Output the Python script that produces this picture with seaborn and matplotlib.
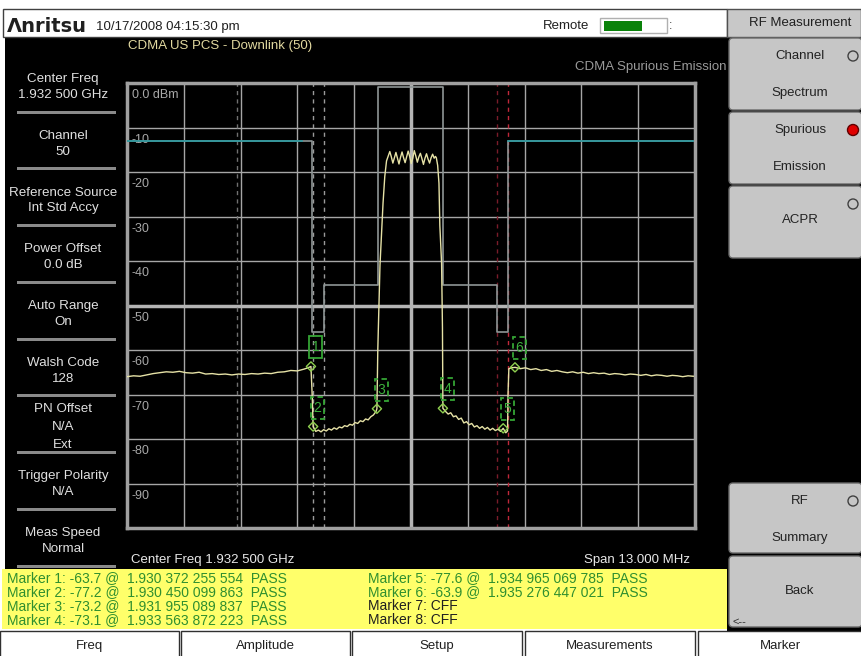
import matplotlib
matplotlib.use('Agg')
import numpy as np
import pandas as pd
import matplotlib.pyplot as plt
import seaborn as sns
from matplotlib.patches import Rectangle, FancyBboxPatch, Circle
from matplotlib.path import Path

plt.rcParams['font.family'] = ['Liberation Sans', 'DejaVu Sans']

# ---- values ----
center_ghz = 1.9325
span_mhz = 13.0

# trace, as offset from centre (MHz) and level (dBm)
trace_offset_mhz = [
    -6.50, -6.35, -6.20, -6.05, -5.90, -5.75, -5.60, -5.45, -5.30, -5.15,
    -5.00, -4.85, -4.70, -4.55, -4.40, -4.25, -4.10, -3.95, -3.80, -3.65,
    -3.50, -3.35, -3.20, -3.05, -2.90, -2.75, -2.60, -2.45, -2.36, -2.29,
    -2.26, -2.24, -2.18, -2.12, -2.06, -2.00, -1.94, -1.88, -1.82, -1.76,
    -1.70, -1.64, -1.58, -1.52, -1.46, -1.40, -1.34, -1.28, -1.22, -1.16,
    -1.10, -1.04, -0.98, -0.92, -0.86, -0.80, -0.78, -0.76, -0.73, -0.71,
    -0.67, -0.64, -0.60, -0.56,
    -0.520, -0.485, -0.450, -0.415, -0.380, -0.345, -0.310, -0.275,
    -0.240, -0.205, -0.170, -0.135, -0.100, -0.065, -0.030, 0.005,
    0.040, 0.075, 0.110, 0.145, 0.180, 0.215, 0.250, 0.285,
    0.320, 0.355, 0.390, 0.425, 0.460, 0.495, 0.530, 0.560,
    0.58, 0.61, 0.64, 0.66, 0.70, 0.72, 0.73, 0.79,
    0.85, 0.91, 0.97, 1.03, 1.09, 1.15, 1.21, 1.27, 1.33, 1.39,
    1.45, 1.51, 1.57, 1.63, 1.69, 1.75, 1.81, 1.87, 1.93, 1.99,
    2.05, 2.11, 2.17, 2.21, 2.22, 2.24, 2.30, 2.38, 2.50, 2.62,
    2.74, 2.86, 2.98, 3.10, 3.22, 3.34, 3.46, 3.58, 3.70, 3.82,
    3.94, 4.06, 4.18, 4.30, 4.42, 4.54, 4.66, 4.78, 4.90, 5.02,
    5.14, 5.26, 5.38, 5.50, 5.62, 5.74, 5.86, 5.98, 6.10, 6.22,
    6.34, 6.46]
trace_dbm = [
    -66.0, -65.8, -65.9, -65.6, -65.3, -65.1, -64.9, -65.0, -64.8, -65.1,
    -65.2, -65.0, -65.4, -65.3, -65.5, -65.4, -65.6, -65.4, -65.5, -65.3,
    -65.4, -65.2, -65.3, -65.0, -64.9, -64.6, -64.7, -64.3, -64.0, -63.7,
    -70.5, -77.2, -78.3, -78.0, -78.4, -77.9, -78.2, -77.7, -78.0, -77.5,
    -77.8, -77.3, -77.5, -77.0, -77.2, -76.7, -76.9, -76.3, -76.5, -75.9,
    -76.1, -75.5, -75.7, -75.0, -74.6, -73.8, -73.2, -60.0, -48.0, -41.0,
    -33.0, -27.0, -21.0, -17.5,
    -16.4, -15.4, -16.6, -18.0, -16.8, -15.6, -16.9, -18.2,
    -16.7, -15.5, -16.8, -17.9, -16.6, -15.3, -16.5, -18.1,
    -16.9, -15.2, -16.4, -17.8, -16.6, -15.8, -17.0, -18.3,
    -16.9, -15.9, -17.1, -18.0, -16.8, -16.0, -16.9, -16.5,
    -16.8, -18.5, -22.5, -32.0, -40.5, -55.0, -73.1, -73.8,
    -74.4, -74.1, -75.0, -74.8, -75.6, -75.3, -76.4, -76.1, -76.8, -76.5,
    -77.3, -77.0, -77.6, -77.2, -77.8, -77.4, -78.0, -77.6, -78.1, -77.8,
    -78.3, -77.6, -78.6, -78.2, -70.0, -64.2, -64.0, -63.9, -64.2, -64.0,
    -64.4, -64.2, -64.6, -64.4, -64.8, -64.6, -64.9, -65.1, -64.9, -65.2,
    -65.0, -65.3, -65.1, -65.3, -65.2, -65.5, -65.3, -65.4, -65.6, -65.4,
    -65.5, -65.7, -65.5, -65.8, -65.6, -65.7, -65.9, -65.7, -65.8, -66.0,
    -65.8, -65.9]

# spurious emission mask (step line)
mask_offset_mhz = [-6.50, -2.27, -2.27, -1.99, -1.99, -0.755, -0.755,
                   0.73, 0.73, 1.97, 1.97, 2.22, 2.22, 6.45]
mask_dbm = [-13, -13, -56, -56, -45.4, -45.4, -1.0,
            -1.0, -45.4, -45.4, -56, -56, -13, -13]
limit_left_mhz = [-6.50, -2.49]
limit_right_mhz = [2.22, 6.45]
limit_dbm = -13

# vertical dashed band edges
band_offset_mhz = [-3.98, -2.24, -1.99, 1.97, 2.22]
band_colors = ['#707070', '#9a9a9a', '#9a9a9a', '#7a1c2a', '#c0283a']

# markers
marker_ids = [1, 2, 3, 4, 5, 6]
marker_offset_mhz = [-2.29, -2.24, -0.78, 0.73, 2.11, 2.38]
marker_dbm = [-63.7, -77.2, -73.2, -73.1, -77.6, -63.9]
marker_freq_text = ['1.930 372 255 554', '1.930 450 099 863',
                    '1.931 955 089 837', '1.933 563 872 223',
                    '1.934 965 069 785', '1.935 276 447 021']

y_levels = [0, -10, -20, -30, -40, -50, -60, -70, -80, -90]

left_titles = ['Center Freq', 'Channel', 'Reference Source', 'Power Offset',
               'Auto Range', 'Walsh Code', 'PN Offset', 'Trigger Polarity',
               'Meas Speed']
left_values = ['1.932 500 GHz', '50', 'Int Std Accy', '0.0 dB', 'On', '128',
               'N/A\nExt', 'N/A', 'Normal']

tab_labels = ['Freq', 'Amplitude', 'Setup', 'Measurements', 'Marker']


def tall_box(x0, y0, width, height, mutation_size):
    # fixed 13 x 22 px frame round the marker number
    cx, cy = x0 + width / 2, y0 + height / 2
    w, h = 13, 22
    return Path([(cx - w / 2, cy - h / 2), (cx + w / 2, cy - h / 2),
                 (cx + w / 2, cy + h / 2), (cx - w / 2, cy + h / 2),
                 (cx - w / 2, cy - h / 2)], closed=True)


# ---- figure ----
fig = plt.figure(figsize=(8.62, 6.56), dpi=100, facecolor='white')
bg = fig.add_axes([0, 0, 1, 1])
bg.set_xlim(0, 862)
bg.set_ylim(656, 0)
bg.axis('off')

# screen regions
bg.add_patch(Rectangle((5, 37), 722, 532, fc='black', ec='none'))
bg.add_patch(Rectangle((727, 37), 135, 594, fc='black', ec='none'))
bg.add_patch(Rectangle((3, 9), 724, 28, fc='white', ec='#404040', lw=1))
bg.add_patch(Rectangle((727, 9), 134, 28, fc='#c8c8c8', ec='#505050', lw=1))
bg.add_patch(Rectangle((2, 569), 725, 60, fc='#ffff6a', ec='none'))

# title bar
bg.text(7, 26, '\u039bnritsu', fontsize=14, fontweight='bold',
        family='DejaVu Sans', color='#202020', va='center')
bg.text(96, 27, '10/17/2008 04:15:30 pm', fontsize=9.5, color='#202020', va='center')
bg.text(543, 26, 'Remote', fontsize=9.5, color='#202020', va='center')
bg.add_patch(Rectangle((600, 18), 67, 15, fc='white', ec='#b0b0b0', lw=1))
bg.add_patch(Rectangle((604, 21), 38, 10, fc='#0a820a', ec='none'))
bg.text(669, 26, ':', fontsize=9, color='#404040', va='center')
bg.text(800, 23, 'RF Measurement', fontsize=9.5, color='#202020',
        ha='center', va='center')

bg.text(128, 46, 'CDMA US PCS - Downlink (50)', fontsize=9.5,
        color='#e2d9a0', va='center')
bg.text(727, 67, 'CDMA Spurious Emission', fontsize=9.5, color='#9a9a9a',
        ha='right', va='center')
bg.text(131, 560, 'Center Freq 1.932 500 GHz', fontsize=9.5, color='#e8e8e8', va='center')
bg.text(690, 560, 'Span 13.000 MHz', fontsize=9.5, color='#e8e8e8',
        ha='right', va='center')

# left parameter panel
for i, (t, v) in enumerate(zip(left_titles, left_values)):
    bar_y = 112 + 56.75 * i
    lines = [t] + v.split('\n')
    if len(lines) == 2:
        ys = [bar_y - 33, bar_y - 17]
    else:
        ys = [bar_y - 43, bar_y - 26, bar_y - 8]
    for s, yy in zip(lines, ys):
        bg.text(63, yy, s, fontsize=9.6, color='#e0e0e0', ha='center', va='center')
    bg.add_patch(Rectangle((17, bar_y - 1.5), 99, 3, fc='#8a8a8a', ec='none'))

# right soft keys
buttons = [(38, 110, ['Channel', 'Spectrum'], 'open'),
           (112, 184, ['Spurious', 'Emission'], 'on'),
           (186, 258, ['ACPR'], 'open'),
           (483, 553, ['RF', 'Summary'], 'open'),
           (556, 627, ['Back'], None)]
for top, bot, lines, ind in buttons:
    bg.add_patch(FancyBboxPatch((729, top), 133, bot - top,
                                boxstyle='round,pad=0,rounding_size=4',
                                fc='#c6c6c6', ec='#6a6a6a', lw=1))
    if len(lines) == 2:
        bg.text(800, top + 18, lines[0], fontsize=9.5, color='#222222', ha='center', va='center')
        bg.text(800, top + 55, lines[1], fontsize=9.5, color='#222222', ha='center', va='center')
    else:
        bg.text(800, (top + bot) / 2 - 1 if ind is None else top + 34, lines[0],
                fontsize=9.5, color='#222222', ha='center', va='center')
    if ind == 'open':
        bg.add_patch(Circle((853, top + 18), 5, fc='none', ec='#404040', lw=1))
    elif ind == 'on':
        bg.add_patch(Circle((853, top + 18), 5.5, fc='#e00000', ec='#600000', lw=1))
bg.text(733, 622, '<--', fontsize=8, color='#303030', va='center')

# marker readout table
for k, (mid, v, ft) in enumerate(zip(marker_ids, marker_dbm, marker_freq_text)):
    col_x = 7 if k < 4 else 368
    row_y = 578 + 14 * (k % 4)
    bg.text(col_x, row_y, f'Marker {mid}: {v:.1f} @  {ft}  PASS', fontsize=10,
            color='#2f8f2f', va='center')
for k, mid in enumerate([7, 8]):
    bg.text(368, 606 + 14 * k, f'Marker {mid}: CFF', fontsize=10,
            color='#202020', va='center')

# bottom tabs
tab_edges = [(0, 179), (181, 350), (352, 522), (525, 695), (698, 862)]
for (x0, x1), lab in zip(tab_edges, tab_labels):
    bg.add_patch(Rectangle((x0, 631), x1 - x0, 26, fc='white', ec='#303030', lw=1))
    bg.text((x0 + x1) / 2, 646, lab, fontsize=9.5, color='#202020',
            ha='center', va='center')

# ---- spectrum plot ----
ax = fig.add_axes([127 / 862, 128 / 656, 568 / 862, 445 / 656])
ax.set_facecolor('black')
f0 = center_ghz - span_mhz / 2000
f1 = center_ghz + span_mhz / 2000
ax.set_xlim(f0, f1)
ax.set_ylim(-100, 0)
ax.set_xticks(np.linspace(f0, f1, 11))
ax.set_yticks(range(-100, 1, 10))
ax.grid(True, color='#a6a6a6', lw=1)
ax.set_axisbelow(True)
ax.tick_params(length=0, labelbottom=False, labelleft=False)
for sp in ax.spines.values():
    sp.set_color('#a0a0a0')
    sp.set_linewidth(2.5)
ax.axvline(center_ghz, color='#b4b4b4', lw=2.5, zorder=1)
ax.axhline(-50, color='#b4b4b4', lw=2.5, zorder=1)

to_ghz = lambda offs: [center_ghz + o / 1000 for o in offs]

for off, c in zip(band_offset_mhz, band_colors):
    ax.axvline(center_ghz + off / 1000, color=c, lw=1, ls=(0, (3, 3)), zorder=2)

ax.plot(to_ghz(mask_offset_mhz), mask_dbm, color='#8e9696', lw=1.2, zorder=3)
ax.plot(to_ghz(limit_left_mhz), [limit_dbm] * 2, color='#2a9aa0', lw=1.2, zorder=3)
ax.plot(to_ghz(limit_right_mhz), [limit_dbm] * 2, color='#2a9aa0', lw=1.2, zorder=3)

trace = pd.DataFrame({'freq': to_ghz(trace_offset_mhz), 'dbm': trace_dbm})
sns.lineplot(data=trace, x='freq', y='dbm', color='#e6e2a6', lw=1, ax=ax,
             sort=False, estimator=None, zorder=4)

mk = pd.DataFrame({'freq': to_ghz(marker_offset_mhz), 'dbm': marker_dbm,
                   'id': marker_ids})
sns.scatterplot(data=mk, x='freq', y='dbm', marker='D', s=22, ax=ax,
                facecolor='none', edgecolor='#8fd050', linewidth=1, zorder=5)
for _, r in mk.iterrows():
    ax.annotate(str(int(r['id'])), xy=(r['freq'], r['dbm']), xytext=(4.5, 19),
                textcoords='offset pixels', ha='center', va='center',
                fontsize=10, color='#3cb03c', zorder=6,
                bbox=dict(boxstyle=tall_box, fc='none', ec='#35a535',
                          lw=1.3, ls='-' if r['id'] == 1 else (0, (3, 2))))

for lv in y_levels:
    lab = '0.0 dBm' if lv == 0 else f'-{abs(lv)}'
    ax.text(0.008, lv - 2.8, lab, transform=ax.get_yaxis_transform(),
            fontsize=9, color='#a8a8a8', va='center', zorder=2)

ax.set_xlabel('')
ax.set_ylabel('')

fig.savefig('out.png', dpi=100, facecolor='white')
